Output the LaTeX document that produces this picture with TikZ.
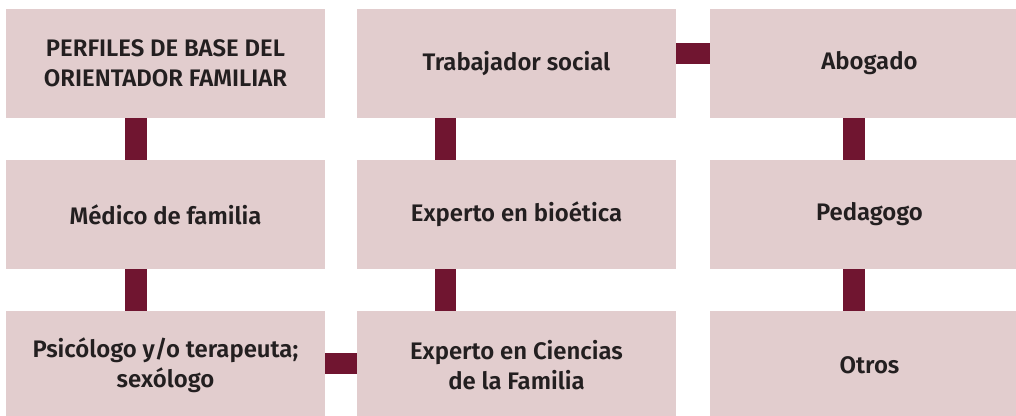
\documentclass[tikz,border=0pt]{standalone}
\usepackage{fontspec}
\setmainfont{Fira Sans}[BoldFont={* SemiBold}]
\usepackage{tikz}
\usetikzlibrary{positioning}

\definecolor{cajafondo}{RGB}{226,205,206}
\definecolor{enlace}{RGB}{112,21,48}
\definecolor{texto}{RGB}{35,31,32}

\tikzset{
  caja/.style={rectangle,fill=cajafondo,minimum width=319bp,minimum height=109bp,
    inner sep=0pt,align=center,text=texto,font=\fontsize{24}{30}\selectfont\bfseries},
  enlace/.style={draw=enlace,line width=21.5bp}
}

\begin{document}
\begin{tikzpicture}
%%
\useasboundingbox (0bp,0bp) rectangle (1016bp,416bp);
\clip (0bp,0bp) rectangle (1016bp,416bp);
%
  \node (perfil)   at (165.5bp,352.5bp) [caja] {PERFILES DE BASE DEL\\ORIENTADOR FAMILIAR};
  \node (trabajo)  at (516.5bp,352.5bp) [caja] {Trabajador social};
  \node (abogado)  at (869.5bp,352.5bp) [caja] {Abogado};
  \node (medico)   at (165.5bp,201.5bp) [caja] {Médico de familia};
  \node (bioetica) at (516.5bp,201.5bp) [caja] {Experto en bioética};
  \node (pedagogo) at (869.5bp,201.5bp) [caja] {Pedagogo};
  \node (psico)    at (165.5bp,50.5bp)  [caja] {Psicólogo y/o terapeuta;\\sexólogo};
  \node (ciencias) at (516.5bp,50.5bp)  [caja] {Experto en Ciencias\\de la Familia};
  \node (otros)    at (869.5bp,50.5bp)  [caja] {Otros};

  \draw[enlace] ([xshift=-29.5bp]perfil.south) -- ([xshift=-29.5bp]medico.north);
  \draw[enlace] ([xshift=-29.5bp]medico.south) -- ([xshift=-29.5bp]psico.north);
  \draw[enlace] ([xshift=-71bp]trabajo.south) -- ([xshift=-71bp]bioetica.north);
  \draw[enlace] ([xshift=-71bp]bioetica.south) -- ([xshift=-71bp]ciencias.north);
  \draw[enlace] ([xshift=-15.5bp]abogado.south) -- ([xshift=-15.5bp]pedagogo.north);
  \draw[enlace] ([xshift=-15.5bp]pedagogo.south) -- ([xshift=-15.5bp]otros.north);
  \draw[enlace] ([yshift=10bp]trabajo.east) -- ([yshift=10bp]abogado.west);
  \draw[enlace] ([yshift=2bp]psico.east) -- ([yshift=2bp]ciencias.west);
%
\end{tikzpicture}
\end{document}
